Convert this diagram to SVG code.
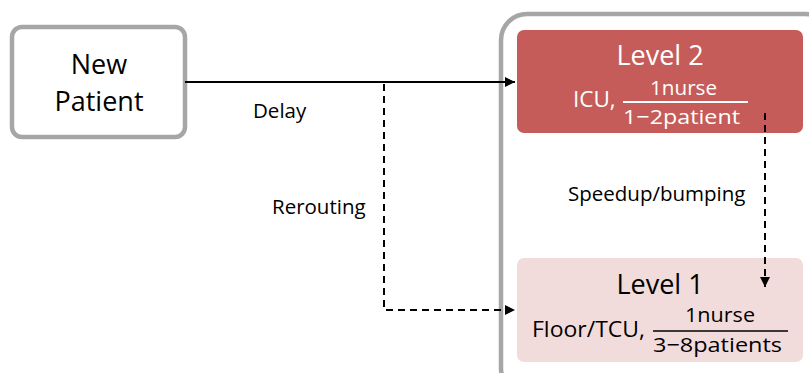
<svg xmlns="http://www.w3.org/2000/svg" width="809" height="373" viewBox="0 0 809 373">
<style>
text{font-family:"Open Sans","Liberation Sans",sans-serif;}
.big{font-size:27px;}
.mid{font-size:22.5px;}
.frac{font-size:20.5px;}
.lbl{font-size:20.5px;fill:#000;}
.w{fill:#fff;}
.k{fill:#000;}
.gbox{fill:#fff;stroke:#a6a6a6;stroke-width:4.5;}
.solid{stroke:#000;stroke-width:2;fill:none;}
.dash{stroke:#000;stroke-width:2;fill:none;stroke-dasharray:7,5;}
</style>
<defs>
<marker id="ah" viewBox="0 0 10 10" refX="10" refY="5" markerWidth="5" markerHeight="5" orient="auto" markerUnits="strokeWidth">
<path d="M0,0 L10,5 L0,10 z" fill="#000"/>
</marker>
</defs>
<rect width="809" height="373" fill="#fff"/>
<g id="container">
<rect class="gbox" x="501" y="14" width="330" height="380" rx="26"/>
</g>
<g id="new-patient">
<rect class="gbox" x="12" y="27" width="173" height="110" rx="10"/>
<text class="big k" x="99" y="74" text-anchor="middle">New</text>
<text class="big k" x="99" y="111" text-anchor="middle">Patient</text>
</g>
<g id="level2">
<rect x="517" y="30" width="286" height="103" rx="7" fill="#c55c59"/>
<text class="big w" x="660" y="65" text-anchor="middle">Level 2</text>
<text class="mid w" x="573" y="107">ICU,</text>
<text class="frac w" x="650" y="95" textLength="67" lengthAdjust="spacingAndGlyphs">1nurse</text>
<line x1="623" y1="102" x2="748" y2="102" stroke="#fff" stroke-width="2"/>
<text class="frac w" x="623" y="124" textLength="117" lengthAdjust="spacingAndGlyphs">1−2patient</text>
</g>
<g id="level1">
<rect x="517" y="258" width="286" height="104" rx="7" fill="#f2dcdb"/>
<text class="big k" x="660" y="294" text-anchor="middle">Level 1</text>
<text class="mid k" x="532" y="337" textLength="113" lengthAdjust="spacingAndGlyphs">Floor/TCU,</text>
<text class="frac k" x="685" y="322" textLength="70" lengthAdjust="spacingAndGlyphs">1nurse</text>
<line x1="653" y1="331" x2="788" y2="331" stroke="#000" stroke-width="1.5"/>
<text class="frac k" x="653" y="352" textLength="129" lengthAdjust="spacingAndGlyphs">3−8patients</text>
</g>
<g id="connectors">
<path class="solid" d="M185,82 H515" marker-end="url(#ah)"/>
<path class="dash" d="M384,84 V310 H515" marker-end="url(#ah)"/>
<path class="dash" d="M765,113 V287" marker-end="url(#ah)"/>
<text class="lbl" x="253" y="118">Delay</text>
<text class="lbl" x="272" y="214">Rerouting</text>
<text class="lbl" x="568" y="201">Speedup/bumping</text>
</g>
</svg>
